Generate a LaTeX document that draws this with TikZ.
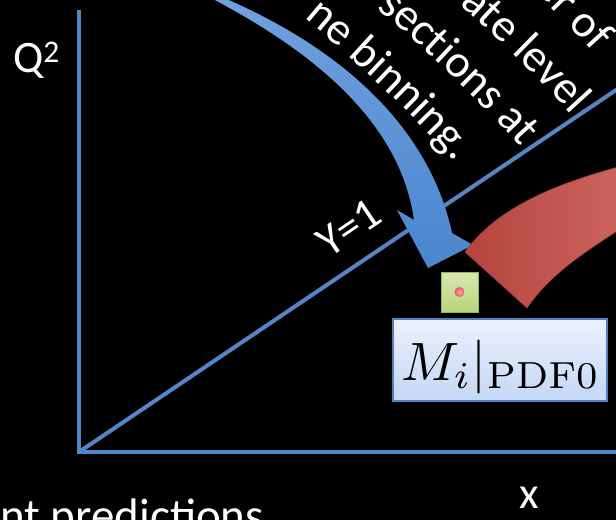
\documentclass[tikz,border=0pt]{standalone}
\usepackage{graphicx}
\usepackage[no-math]{fontspec}
\setmainfont{Carlito}
\usetikzlibrary{decorations.text}
\definecolor{axisblue}{RGB}{84,134,196}
\definecolor{arrowtop}{RGB}{112,160,222}
\definecolor{arrowmid}{RGB}{142,184,234}
\definecolor{arrowbot}{RGB}{74,134,206}
\definecolor{redA}{RGB}{180,68,62}
\definecolor{redB}{RGB}{204,100,94}
\definecolor{greenlight}{RGB}{216,232,176}
\definecolor{greendark}{RGB}{184,212,124}
\definecolor{greenborder}{RGB}{150,184,90}
\definecolor{boxtop}{RGB}{236,241,253}
\definecolor{boxbot}{RGB}{196,215,245}
\definecolor{boxborder}{RGB}{84,126,190}
\definecolor{dotred}{RGB}{226,90,90}
\newcommand\wordfont{\fontsize{46}{55}\selectfont\color{white}}
\begin{document}
\begin{tikzpicture}[x=1pt,y=-1pt,
  lbl/.style={text=white,font=\fontsize{45}{54}\selectfont,inner sep=0pt},
  axisline/.style={draw=axisblue,line width=4.5pt},
  arctext/.style={decorate,decoration={text along path,text align=right,text={|\wordfont|#1}}}]
\fill[black] (0,0) rectangle (616,520);
\useasboundingbox (0,0) rectangle (616,520);
\clip (0,0) rectangle (616,520);
% axes
\coordinate (top) at (79,10);
\coordinate (O) at (79,452);
\coordinate (xend) at (622,452);
\coordinate (dend) at (622,86);
\draw[axisline] (top) -- (O) -- (xend);
\draw[axisline,line width=4pt] (O) -- (dend);
% blue curved arrow
\shade[top color=arrowtop, middle color=arrowmid, bottom color=arrowbot]
  (211,-2) .. controls (310,50) and (400,120) .. (414,220)
  -- (397,210) -- (428,268) -- (473,245) -- (452,233)
  .. controls (430,130) and (345,50) .. (224,-2) -- cycle;
% red block arc
\shade[left color=redA, right color=redB, draw=redA!85!black, line width=0.6pt]
  (465,252) .. controls (495,210) and (550,185) .. (622,166)
  -- (622,228) .. controls (580,255) and (550,275) .. (527,308) -- cycle;
% green square with dot
\node[draw=greenborder, line width=1pt, top color=greenlight, bottom color=greendark,
  minimum width=37pt, minimum height=40pt, inner sep=0pt] (sq) at (459.5,292) {};
\node[circle, inner sep=0pt, minimum size=10pt, inner color=red!35!white, outer color=dotred] (dot) at (sq.center) {};
% formula box
\node[draw=boxborder, line width=1.5pt, top color=boxtop, bottom color=boxbot,
  minimum width=214pt, minimum height=82pt, inner sep=0pt] (box) at (500,360) {};
\node[inner sep=0pt, anchor=base, font=\fontsize{10}{12}\selectfont] (ml) at (501,380) {\scalebox{5.4}{$M_i|_{\mathrm{PDF0}}$}};
% labels
\node[lbl, anchor=base west] (q) at (13,72) {Q\textsuperscript{2}};
\node[lbl, anchor=base] (xl) at (529,508) {x};
\node[lbl, anchor=base, rotate=34] (y1) at (357,240) {Y=1};
% curved text lines (cut by the top edge)
\path[arctext={er of}] (403,-123) .. controls (467,-75) and (540.5,-6.5) .. (594,53);
\path[arctext={ate level}] (381,-60.5) .. controls (445,-12.5) and (518.5,56) .. (572,115.5);
\path[arctext={sections at}] (330,-29) .. controls (394,19) and (467.5,87.5) .. (521,147);
\path[arctext={ne binning.}] (264,-14) .. controls (328,34) and (401.5,102.5) .. (455,162);
\node[lbl, anchor=base west, font=\fontsize{47}{56}\selectfont] (bt) at (0,531) {nt predictions};
\end{tikzpicture}
\end{document}
